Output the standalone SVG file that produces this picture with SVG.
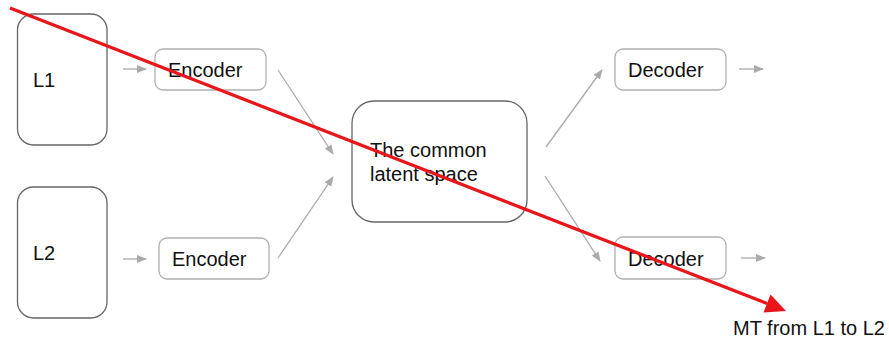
<svg xmlns="http://www.w3.org/2000/svg" width="889" height="343" viewBox="0 0 889 343">
<defs>
<marker id="ah" markerWidth="10" markerHeight="8" refX="9" refY="4" orient="auto" markerUnits="userSpaceOnUse">
<path d="M0,0 L10,4 L0,8 z" fill="#aaaaaa"/>
</marker>
<style>
.big{fill:#fff;stroke:#666;stroke-width:1.3}
.sm{fill:#fff;stroke:#b0b0b0;stroke-width:1.3}
.t{font-family:"Liberation Sans",Arial,sans-serif;font-size:20px;fill:#111}
.c{stroke:#aaaaaa;stroke-width:1.3;fill:none;marker-end:url(#ah)}
</style>
</defs>
<rect width="889" height="343" fill="#fff"/>
<g id="L1"><rect class="big" x="17.5" y="14" width="89.5" height="131" rx="16"/><text class="t" x="33" y="87">L1</text></g>
<g id="L2"><rect class="big" x="17.5" y="187" width="89.5" height="131" rx="16"/><text class="t" x="33" y="260">L2</text></g>
<g id="enc1"><rect class="sm" x="155" y="49" width="111" height="41" rx="8"/><text class="t" x="168" y="77">Encoder</text></g>
<g id="enc2"><rect class="sm" x="159" y="238" width="110" height="41" rx="8"/><text class="t" x="172" y="266">Encoder</text></g>
<g id="latent"><rect class="big" x="352" y="101" width="175" height="121" rx="22"/><text class="t" x="370" y="157">The common</text><text class="t" x="370" y="181">latent space</text></g>
<g id="dec1"><rect class="sm" x="615" y="49" width="111" height="41" rx="8"/><text class="t" x="628" y="77">Decoder</text></g>
<g id="dec2"><rect class="sm" x="615" y="237" width="111" height="42" rx="8"/><text class="t" x="628" y="266">Decoder</text></g>
<g id="connectors">
<line class="c" x1="123" y1="69" x2="146" y2="69"/>
<line class="c" x1="123" y1="259" x2="146" y2="259"/>
<line class="c" x1="278" y1="70" x2="333" y2="154"/>
<line class="c" x1="278" y1="258" x2="333" y2="177"/>
<line class="c" x1="546" y1="147" x2="602" y2="70"/>
<line class="c" x1="545" y1="176" x2="600" y2="261"/>
<line class="c" x1="739" y1="69" x2="763" y2="69"/>
<line class="c" x1="741" y1="258" x2="765" y2="258"/>
</g>
<g id="mt">
<line x1="10" y1="8" x2="767" y2="303.5" stroke="#e8161b" stroke-width="3.3"/>
<polygon points="786,311 763.5,312.5 770.5,294.5" fill="#e8161b"/>
<text class="t" x="733" y="335">MT from L1 to L2</text>
</g>
</svg>
